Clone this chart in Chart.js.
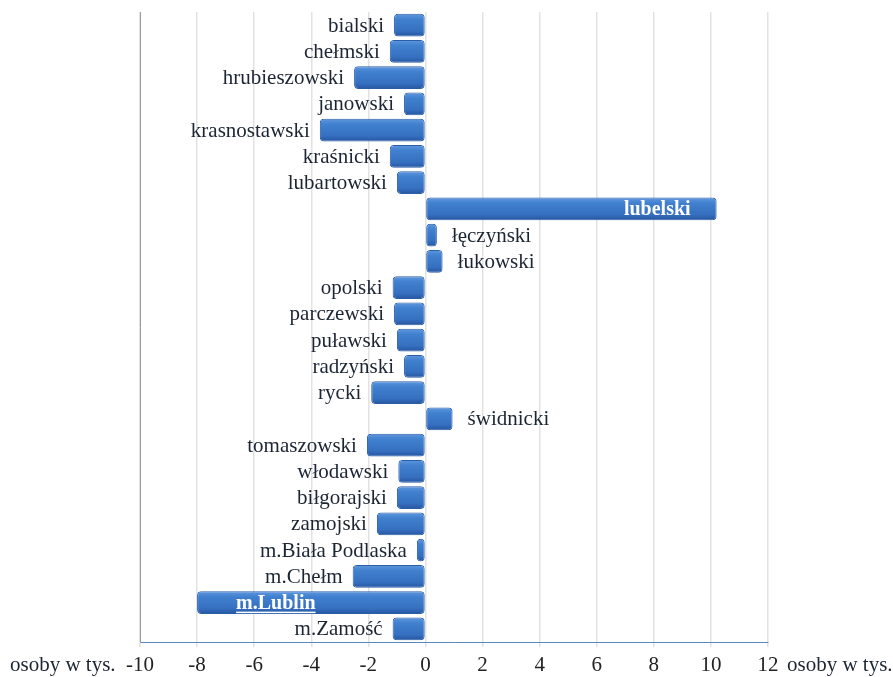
<!DOCTYPE html>
<html>
<head>
<meta charset="utf-8">
<script src="https://cdn.jsdelivr.net/npm/chart.js@4.4.0/dist/chart.umd.min.js"></script>
<style>
  html, body { margin:0; padding:0; background:#fff; }
  #wrap { width:893px; height:677px; }
</style>
</head>
<body>
<div id="wrap"><canvas id="powiatChart" width="893" height="677"></canvas></div>
<script>
// saldo migracji wg powiatow (osoby w tys.)
const powiaty = ['bialski','chełmski','hrubieszowski','janowski','krasnostawski','kraśnicki','lubartowski',
  'lubelski','łęczyński','łukowski','opolski','parczewski','puławski','radzyński','rycki','świdnicki',
  'tomaszowski','włodawski','biłgorajski','zamojski','m.Biała Podlaska','m.Chełm','m.Lublin','m.Zamość'];
const saldo = [-1.1, -1.25, -2.5, -0.75, -3.7, -1.25, -1.0, 10.2, 0.4, 0.6, -1.15, -1.1, -1.0, -0.75,
  -1.9, 0.95, -2.05, -0.95, -1.0, -1.7, -0.3, -2.55, -8.0, -1.15];
const xTicks = [-10, -8, -6, -4, -2, 0, 2, 4, 6, 8, 10, 12];
const jednostka = 'osoby w tys.';
// labels drawn inside the bar
const inside = ['lubelski', 'm.Lublin'];

const FONT = '"Liberation Serif", "DejaVu Serif", serif';

// shaded bars, lighter on top, darker at the bottom
const barShade = {
  id: 'barShade',
  beforeDatasetsDraw(chart){
    const ctx = chart.ctx;
    chart.getDatasetMeta(0).data.forEach(bar => {
      const h = bar.height;
      const g = ctx.createLinearGradient(0, bar.y - h/2, 0, bar.y + h/2);
      g.addColorStop(0, '#5f97de');
      g.addColorStop(0.25, '#4080cf');
      g.addColorStop(0.75, '#3670c0');
      g.addColorStop(1, '#2655a0');
      bar.options = Object.assign({}, bar.options, { backgroundColor: g });
    });
  }
};

const barLabels = {
  id: 'barLabels',
  afterDatasetsDraw(chart){
    const ctx = chart.ctx;
    const meta = chart.getDatasetMeta(0);
    const x0 = chart.scales.x.getPixelForValue(0);
    ctx.save();
    ctx.textBaseline = 'middle';
    meta.data.forEach((bar, i) => {
      const name = powiaty[i], v = saldo[i];
      const y = bar.y + 1;
      if(inside.includes(name)){
        ctx.fillStyle = '#ffffff';
        ctx.font = 'bold 20px ' + FONT;
        if(v > 0){
          ctx.textAlign = 'right';
          ctx.fillText(name, bar.x - 26, y);
        } else {
          ctx.textAlign = 'left';
          ctx.fillText(name, bar.x + 39, y);
          const w = ctx.measureText(name).width;
          ctx.fillRect(bar.x + 39, y + 8, w, 1.5);
        }
      } else {
        ctx.font = '21px ' + FONT;
        ctx.fillStyle = '#1c2533';
        if(v < 0){
          ctx.textAlign = 'right';
          ctx.fillText(name, Math.min(bar.x, x0) - 10, y);
        } else {
          ctx.textAlign = 'left';
          ctx.fillText(name, bar.x + 15, y);
        }
      }
    });
    // axis unit on both sides of the tick row
    const xs = chart.scales.x;
    const ty = xs.top + 23;
    ctx.font = '21px ' + FONT;
    ctx.fillStyle = '#1c2533';
    ctx.textAlign = 'left';
    ctx.fillText(jednostka, 10, ty);
    ctx.fillText(jednostka, xs.right + 19, ty);
    ctx.restore();
  }
};

const ctx = document.getElementById('powiatChart').getContext('2d');
new Chart(ctx, {
  type: 'bar',
  data: {
    labels: powiaty,
    datasets: [{
      data: saldo,
      backgroundColor: '#3a74c6',
      borderColor: '#2b5ea8',
      borderWidth: 1,
      borderSkipped: false,
      borderRadius: 4,
      barPercentage: 0.86,
      categoryPercentage: 1.0
    }]
  },
  options: {
    indexAxis: 'y',
    responsive: false,
    animation: false,
    layout: { padding: { left: 140, right: 125, top: 12, bottom: 0 } },
    plugins: { legend: { display: false }, tooltip: { enabled: false } },
    scales: {
      x: {
        min: -10, max: 12,
        afterBuildTicks: (s) => { s.ticks = xTicks.map(v => ({ value: v })); },
        afterFit: (s) => { s.height = 35; },
        grid: { color: '#e2e2e2', lineWidth: 1.5, drawTicks: true, tickLength: 5, tickColor: '#e2e2e2' },
        border: { color: '#5b86c4', width: 1 },
        ticks: { color: '#222', font: { family: FONT, size: 21 }, padding: 6 }
      },
      y: {
        afterFit: (s) => { s.width = 0; },
        grid: { display: false },
        border: { color: '#9a9a9a', width: 1 },
        ticks: { display: false }
      }
    }
  },
  plugins: [barShade, barLabels]
});
</script>
</body>
</html>
